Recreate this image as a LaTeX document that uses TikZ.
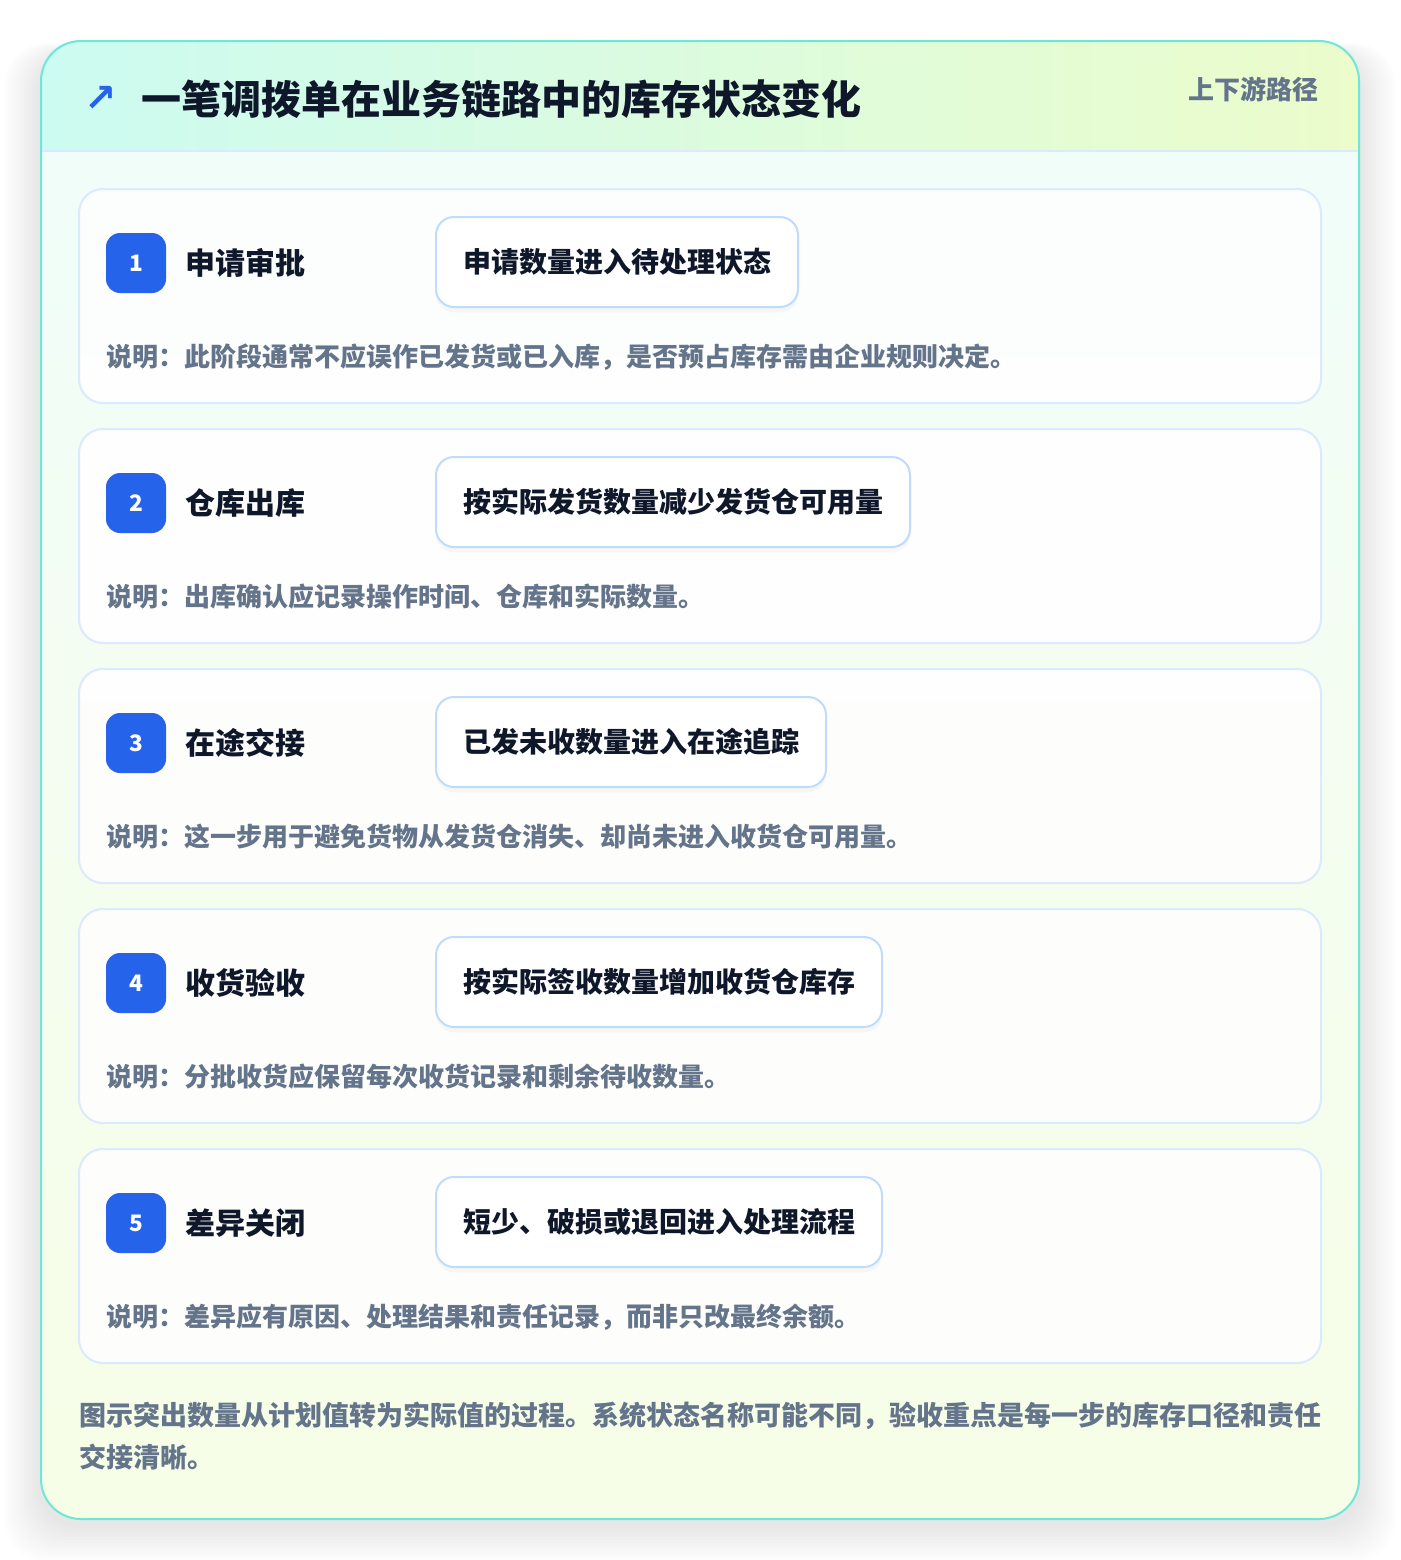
\documentclass[tikz,border=0pt]{standalone}
\usepackage{fontspec}
\setmainfont{Noto Sans CJK SC}
\newfontfamily\symfont{DejaVu Sans}
\usetikzlibrary{positioning}
\usetikzlibrary{shadows}
\usepackage{xcolor}
\definecolor{outerline}{HTML}{6EE7D6}
\definecolor{headleft}{HTML}{CCFBF1}
\definecolor{headright}{HTML}{ECFCCB}
\definecolor{bodytop}{HTML}{F0FDFA}
\definecolor{bodybottom}{HTML}{F7FEE7}
\definecolor{divider}{HTML}{DBEAFE}
\definecolor{cardline}{HTML}{DBEAFE}
\definecolor{stateline}{HTML}{BFDBFE}
\definecolor{badgeblue}{HTML}{2563EB}
\definecolor{inkdark}{HTML}{0F172A}
\definecolor{inkgrey}{HTML}{64748B}

\tikzset{
 badge/.style={fill=badgeblue, text=white, rounded corners=10.5pt, minimum size=45pt, inner sep=0, font=\bfseries\fontsize{17}{17}\selectfont},
 steptitle/.style={anchor=west, inner sep=0, text=inkdark, font=\bfseries\fontsize{22.5}{22.5}\selectfont},
 statebox/.style={anchor=west, draw=stateline, line width=1.5pt, fill=white, rounded corners=13.5pt, inner xsep=20.25pt, minimum height=67.5pt, text=inkdark, font=\bfseries\fontsize{21}{21}\selectfont, drop shadow={opacity=0.05, shadow xshift=0pt, shadow yshift=-4pt}},
 note/.style={anchor=west, inner sep=0, text=inkgrey, font=\bfseries\fontsize{19.5}{19.5}\selectfont}
}

\begin{document}
\begin{tikzpicture}[x=0.75pt, y=-0.75pt]
\useasboundingbox (0,0) rectangle (1400,1560);
\fill[white] (0,0) rectangle (1400,1560);
% soft shadow
\foreach \s in {1,...,12} {
 \fill[black, opacity=0.007, rounded corners=30pt] (41-3*\s,41-\s+14) rectangle (1359+3*\s,1519+3*\s+6);
}
% card and header
\shade[top color=bodytop, bottom color=bodybottom, rounded corners=30pt] (41,41) rectangle (1359,1519);
\begin{scope}
 \clip[rounded corners=30pt] (41,41) rectangle (1359,1519);
 \shade[left color=headleft, right color=headright] (41,41) rectangle (1359,151);
\end{scope}
\draw[divider, line width=1.5pt] (41,151) -- (1359,151);
\draw[outerline, line width=1.5pt, rounded corners=30pt] (41,41) rectangle (1359,1519);

\node[anchor=west, inner sep=0, text=badgeblue, font=\symfont\bfseries\fontsize{29}{29}\selectfont] (arrow) at (84,99) {↗};
\node[anchor=west, inner sep=0, text=inkdark, font=\bfseries\fontsize{30}{30}\selectfont] (title) at (141,99) {一笔调拨单在业务链路中的库存状态变化};
\node[anchor=east, inner sep=0, text=inkgrey, font=\bfseries\fontsize{19.5}{19.5}\selectfont] (tag) at (1319,89) {上下游路径};

% steps
\foreach \n/\head/\state/\desc in {
 1/申请审批/申请数量进入待处理状态/{说明：此阶段通常不应误作已发货或已入库，是否预占库存需由企业规则决定。},
 2/仓库出库/按实际发货数量减少发货仓可用量/{说明：出库确认应记录操作时间、仓库和实际数量。},
 3/在途交接/已发未收数量进入在途追踪/{说明：这一步用于避免货物从发货仓消失、却尚未进入收货仓可用量。},
 4/收货验收/按实际签收数量增加收货仓库存/{说明：分批收货应保留每次收货记录和剩余待收数量。},
 5/差异关闭/短少、破损或退回进入处理流程/{说明：差异应有原因、处理结果和责任记录，而非只改最终余额。}} {
 \pgfmathsetmacro\cy{189+(\n-1)*240}
 \draw[cardline, line width=1.5pt, fill=white, fill opacity=.85, rounded corners=18pt] (79,\cy) rectangle (1321,\cy+214);
 \node[badge] (badge\n) at (136,\cy+74) {\n};
 \node[steptitle, right=14.25pt of badge\n] (head\n) {\head};
 \node[statebox] (state\n) at (435,\cy+73) {\state};
 \node[note] (desc\n) at (106,\cy+168) {\desc};
}

\node[anchor=west, inner sep=0, align=left, text=inkgrey, font=\bfseries\fontsize{20.25}{31.5}\selectfont] (foot) at (79,1436) {图示突出数量从计划值转为实际值的过程。系统状态名称可能不同，验收重点是每一步的库存口径和责任\\交接清晰。};
\end{tikzpicture}
\end{document}
